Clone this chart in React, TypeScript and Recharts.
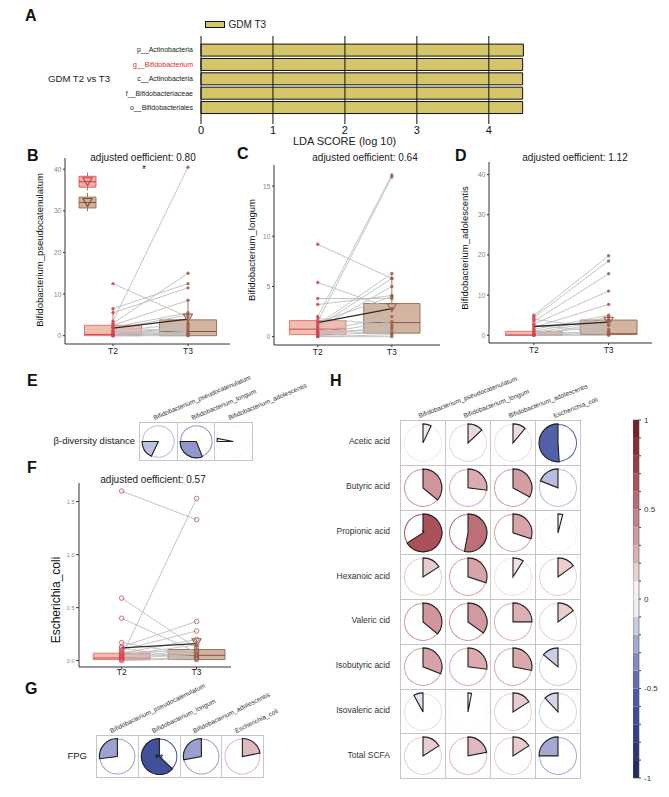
import React from "react";
import {
  Bar,
  BarChart,
  ComposedChart,
  Line,
  Pie,
  PieChart,
  ReferenceArea,
  ReferenceLine,
  Scatter,
  XAxis,
  YAxis,
} from "recharts";

const FONT = '"Liberation Sans", Arial, Helvetica, sans-serif';

// A: LEfSe
const ldaTaxa = ["p__Actinobacteria", "g__Bifidobacterium", "c__Actinobacteria", "f__Bifidobacteriaceae", "o__Bifidobacteriales"];
const ldaScores = [4.48, 4.47, 4.47, 4.47, 4.47];
const ldaTicks = [0, 1, 2, 3, 4];

// B-D, F: paired abundance, T2 -> T3
const timepoints = ["T2", "T3"];

const pseudoT2 = [3.5, 12.5, 6.5, 5.5, 3.0, 2.5, 2.0, 1.5, 1.0, 0.5, 0.3, 0.0, 0.0, 1.0, 0.5, 0.2, 2.0, 0.1];
const pseudoT3 = [40.5, 4.5, 12.5, 11.5, 15.0, 8.5, 5.5, 5.0, 3.0, 2.0, 1.0, 0.5, 0.0, 0.2, 1.5, 0.3, 1.0, 2.5];
const pseudoBoxT2 = [0, 0, 0.3, 2.5, 6.5];
const pseudoBoxT3 = [0, 0, 1.0, 3.8, 8.5];
const pseudoMeans = [1.8, 4.0];
const pseudoKeyT2 = [34.9, 35.7, 37.0, 38.3, 39.2];
const pseudoKeyT3 = [29.9, 30.7, 32.0, 33.3, 34.3];

const longumT2 = [9.2, 5.4, 3.8, 3.2, 2.0, 1.5, 1.2, 1.0, 0.8, 0.5, 0.3, 0.2, 0.1, 0.0, 0.0, 0.6, 1.8, 0.4, 1.4];
const longumT3 = [5.8, 2.8, 3.8, 4.1, 16.1, 15.9, 6.3, 5.8, 5.0, 2.0, 1.5, 1.0, 0.5, 0.2, 0.0, 0.3, 1.2, 0.8, 4.0];
const longumBoxT2 = [0, 0.2, 0.75, 1.6, 2.2];
const longumBoxT3 = [0, 0.35, 1.4, 3.3, 6.3];
const longumMeans = [1.4, 2.8];

const adolT2 = [5.0, 4.5, 3.5, 2.8, 2.0, 1.5, 1.0, 0.5, 0.0, 0.3, 0.2, 0.0, 0.0, 2.5, 4.0, 1.0];
const adolT3 = [19.8, 18.5, 15.3, 11.0, 7.7, 5.0, 4.5, 4.0, 3.5, 2.5, 1.0, 0.5, 0.0, 0.8, 1.5, 0.3];
const adolBoxT2 = [0, 0, 0.1, 1.0, 2.5];
const adolBoxT3 = [0, 0.2, 0.4, 3.8, 5.0];
const adolMeans = [2.2, 3.3];

const coliT2 = [1.6, 0.59, 0.4, 0.17, 0.13, 0.1, 0.07, 0.05, 0.03, 0.02, 0.01, 0.0, 0.04, 0.06, 0.08, 0.12];
const coliT3 = [1.33, 0.12, 0.08, 0.05, 0.37, 0.28, 0.2, 0.15, 0.1, 0.06, 0.03, 0.02, 1.53, 0.04, 0.09, 0.01];
const coliBoxT2 = [0, 0.01, 0.025, 0.07, 0.13];
const coliBoxT3 = [0, 0.01, 0.05, 0.105, 0.2];
const coliMeans = [0.12, 0.16];

// E, G, H: correlation pies
const speciesNames = ["Bifidobacterium_pseudocatenulatum", "Bifidobacterium_longum", "Bifidobacterium_adolescentis", "Escherichia_coli"];
const betaValues = [[-0.18, -0.31, 0.03]];
const fpgValues = [[-0.27, -0.63, -0.28, 0.22]];
const fpgMarks = [["", "**", "", ""]];
const scfaNames = ["Acetic acid", "Butyric acid", "Propionic acid", "Hexanoic acid", "Valeric cid", "Isobutyric acid", "Isovaleric acid", "Total SCFA"];
const scfaValues = [
  [0.07, 0.13, 0.11, -0.51],
  [0.36, 0.27, 0.33, -0.19],
  [0.66, 0.53, 0.3, 0.04],
  [0.16, 0.3, 0.09, 0.15],
  [0.36, 0.35, 0.25, 0.15],
  [0.31, 0.27, 0.28, -0.14],
  [-0.08, 0.03, 0.16, -0.12],
  [0.16, 0.22, 0.16, -0.25],
];
const scfaMarks = [[], [], ["*"], [], [], [], [], []];

// colour scale
const colorStops = [-1, -0.75, -0.5, -0.25, 0, 0.25, 0.5, 0.75, 1];
const colorHex = ["#1f2654", "#333f8a", "#5360aa", "#a4a8d2", "#ffffff", "#ddb0b4", "#c2767e", "#9c3c46", "#6a1a20"];
const colorbarEdges = [-1, -0.9, -0.8, -0.7, -0.6, -0.5, -0.4, -0.3, -0.2, -0.1, 0, 0.1, 0.2, 0.3, 0.4, 0.5, 0.6, 0.7, 0.8, 0.9, 1];
const colorbarLabels = [-1, -0.5, 0, 0.5, 1];

function hexRgb(h: string) {
  return [1, 3, 5].map((i) => parseInt(h.slice(i, i + 2), 16));
}

function corrColor(v: number) {
  let i = 0;
  while (i < colorStops.length - 2 && v > colorStops[i + 1]) i++;
  const t = (v - colorStops[i]) / (colorStops[i + 1] - colorStops[i]);
  const a = hexRgb(colorHex[i]);
  const b = hexRgb(colorHex[i + 1]);
  const c = a.map((x, k) => Math.round(x + (b[k] - x) * t));
  return `rgb(${c[0]},${c[1]},${c[2]})`;
}

const RED = "#d6404e";
const BROWN = "#9a5d4a";
const HW = 0.38;

function Txt({ x, y, text, size, anchor = "start", color = "#222", weight = 400 }: any) {
  const shift = anchor === "middle" ? "-50%" : anchor === "end" ? "-100%" : "0";
  return (
    <div style={{ position: "absolute", left: x, top: y, transform: `translate(${shift}, -50%)`, fontSize: size, lineHeight: 1.15, color, fontWeight: weight, whiteSpace: "nowrap" }}>
      {text}
    </div>
  );
}

function VTxt({ x, y, text, size }: any) {
  return (
    <div style={{ position: "absolute", left: x, top: y, transform: "translate(-50%, -50%) rotate(-90deg)", fontSize: size, lineHeight: 1.15, color: "#111", whiteSpace: "nowrap" }}>
      {text}
    </div>
  );
}

function SlantTxt({ x, y, text, size, angle }: any) {
  return (
    <div style={{ position: "absolute", left: x, top: y - size * 1.15, transformOrigin: "0 100%", transform: `rotate(${-angle}deg)`, fontSize: size, lineHeight: 1.15, color: "#333", whiteSpace: "nowrap" }}>
      {text}
    </div>
  );
}

function Letter({ x, y, t }: any) {
  return <Txt x={x} y={y} text={t} size={16} weight={700} color="#111" />;
}

function LdaPanel() {
  const data = ldaTaxa.map((name, i) => ({ name, score: ldaScores[i] }));
  return (
    <>
      <div style={{ position: "absolute", left: 204.5, top: 21.4, width: 20, height: 7, boxSizing: "border-box", background: "#D4C56A", border: "1px solid #111" }} />
      <Txt x={228.5} y={24.8} text="GDM T3" size={10} />
      <Txt x={48} y={78.6} text="GDM T2 vs T3" size={9.6} />
      <div style={{ position: "absolute", left: 0, top: 28 }}>
        <BarChart width={535} height={116} data={data} layout="vertical" margin={{ top: 8, right: 3, bottom: 0, left: 0 }} barCategoryGap={1.3}>
          {ldaTicks.map((t) => (
            <ReferenceLine key={t} x={t} stroke="#111" strokeWidth={1} />
          ))}
          <XAxis type="number" dataKey="score" domain={[0, 4.6]} ticks={ldaTicks} axisLine={false} tickLine={false} tickSize={1} tickMargin={1.5} height={20} tick={{ fontSize: 11, fill: "#111" }} />
          <YAxis
            type="category"
            dataKey="name"
            width={201}
            axisLine={false}
            tickLine={false}
            interval={0}
            padding={{ top: 6.8, bottom: 9.4 }}
            tick={(p: any) => (
              <text x={p.x} y={p.y} dy="0.35em" textAnchor="end" fontSize={7} fill={p.index === 1 ? "#e8262d" : "#222"}>
                {p.payload.value}
              </text>
            )}
          />
          <Bar dataKey="score" fill="#D4C56A" stroke="#111" strokeWidth={1} isAnimationActive={false} />
        </BarChart>
      </div>
      <Txt x={344.6} y={141.4} text="LDA SCORE (log 10)" size={11} anchor="middle" />
    </>
  );
}

function boxElements(id: string, xc: number, hw: number, s: number[], fill: string, stroke: string, med: string) {
  return [
    <ReferenceLine key={id + "lo"} segment={[{ x: xc, y: s[0] }, { x: xc, y: s[1] }]} stroke={stroke} strokeWidth={1} />,
    <ReferenceLine key={id + "hi"} segment={[{ x: xc, y: s[3] }, { x: xc, y: s[4] }]} stroke={stroke} strokeWidth={1} />,
    <ReferenceArea key={id + "b"} x1={xc - hw} x2={xc + hw} y1={s[1]} y2={s[3]} fill={fill} fillOpacity={0.75} stroke={stroke} strokeWidth={1} />,
    <ReferenceLine key={id + "m"} segment={[{ x: xc - hw, y: s[2] }, { x: xc + hw, y: s[2] }]} stroke={med} strokeWidth={1} />,
  ];
}

function PairedChart(props: any) {
  const { plot, xDomain, yDomain, yTicks, t2, t3, box2, box3, means, tickFont, hollow, keys, yFmt, xTickMargin = 2, yTickSize = 2 } = props;
  const w = plot.right - plot.left;
  const h = plot.bottom - plot.top;
  const rows = [0, 1].map((j) => {
    const row: Record<string, number> = { x: j + 1, mean: means[j] };
    t2.forEach((v: number, i: number) => {
      row["s" + i] = j === 0 ? v : t3[i];
    });
    return row;
  });
  const dot = (color: string) => (s: any) =>
    hollow ? (
      <circle cx={s.cx} cy={s.cy} r={2.3} fill="none" stroke={color} strokeWidth={1} opacity={0.75} />
    ) : (
      <circle cx={s.cx} cy={s.cy} r={1.7} fill={color} opacity={0.85} />
    );
  const tri = (color: string) => (s: any) => (
    <path d={`M${s.cx - 4.5},${s.cy - 4} L${s.cx + 4.5},${s.cy - 4} L${s.cx},${s.cy + 4} Z`} fill="none" stroke={color} strokeWidth={1.1} />
  );
  const triPoints = [{ x: 2, y: means[1] + (yDomain[1] - yDomain[0]) * 0.005 }];
  return (
    <div style={{ position: "absolute", left: plot.left - 30, top: plot.top - 4 }}>
      <ComposedChart width={w + 34} height={h + 22} data={rows} margin={{ top: 4, right: 4, bottom: 0, left: 0 }}>
        <XAxis
          type="number"
          dataKey="x"
          domain={xDomain}
          ticks={[1, 2]}
          allowDataOverflow
          tickFormatter={(v: number) => timepoints[v - 1]}
          height={18}
          tickSize={2}
          tickMargin={xTickMargin}
          stroke="#333"
          tick={{ fontSize: 8.5, fill: "#222" }}
        />
        <YAxis
          type="number"
          domain={yDomain}
          ticks={yTicks}
          allowDataOverflow
          interval={0}
          width={30}
          tickSize={yTickSize}
          tickMargin={1.5}
          stroke="#333"
          tickFormatter={yFmt}
          tick={{ fontSize: tickFont, fill: "#8a8a8a" }}
        />
        {boxElements("b2", 1, HW, box2, "#eca797", "#df7b70", "#d8454f")}
        {boxElements("b3", 2, HW, box3, "#c39c80", "#9d765d", "#8b563f")}
        {keys ? boxElements("k2", 0.66, 0.113, keys[0], "#e99488", "#d8645c", "#c83a44") : null}
        {keys ? boxElements("k3", 0.66, 0.113, keys[1], "#bf967a", "#9d765d", "#8b563f") : null}
        {t2.map((_: number, i: number) => (
          <Line key={"s" + i} dataKey={"s" + i} stroke="#bdbdbd" strokeWidth={0.9} dot={false} activeDot={false} isAnimationActive={false} />
        ))}
        <Line dataKey="mean" stroke="#2b2b2b" strokeWidth={1.3} dot={false} activeDot={false} isAnimationActive={false} />
        <Scatter data={t2.map((y: number) => ({ x: 1, y }))} dataKey="y" shape={dot(RED)} isAnimationActive={false} />
        <Scatter data={t3.map((y: number) => ({ x: 2, y }))} dataKey="y" shape={dot(BROWN)} isAnimationActive={false} />
        <Scatter data={triPoints} dataKey="y" shape={tri(BROWN)} isAnimationActive={false} />
        {keys ? <Scatter data={[{ x: 0.66, y: keys[0][2] }]} dataKey="y" shape={tri("#c83a44")} isAnimationActive={false} /> : null}
        {keys ? <Scatter data={[{ x: 0.66, y: keys[1][2] }]} dataKey="y" shape={tri("#7a4a36")} isAnimationActive={false} /> : null}
      </ComposedChart>
    </div>
  );
}

function PieCell({ value, w, h, radius, start }: any) {
  const color = corrColor(value);
  return (
    <PieChart width={w} height={h} margin={{ top: 0, right: 0, bottom: 0, left: 0 }}>
      <Pie data={[{ v: 1 }]} dataKey="v" cx="50%" cy="50%" innerRadius={radius - 1} outerRadius={radius} startAngle={0} endAngle={360} fill={color} stroke="none" isAnimationActive={false} />
      <Pie data={[{ v: Math.abs(value) }]} dataKey="v" cx="50%" cy="50%" innerRadius={0} outerRadius={radius} startAngle={start} endAngle={start - 360 * value} fill={color} stroke="#1e1e1e" strokeWidth={1.1} isAnimationActive={false} />
    </PieChart>
  );
}

function CorrGrid({ left, top, cellW, cellH, radius, matrix, start, marks, markSize = 10 }: any) {
  return (
    <div style={{ position: "absolute", left, top }}>
      {matrix.map((row: number[], r: number) =>
        row.map((v: number, c: number) => (
          <div key={r + "-" + c} style={{ position: "absolute", left: c * cellW, top: r * cellH, width: cellW + 1, height: cellH + 1, boxSizing: "border-box", border: "1px solid #c6c6c6" }}>
            <div style={{ position: "absolute", left: 0, top: 0 }}>
              <PieCell value={v} w={cellW - 1} h={cellH - 1} radius={radius} start={start} />
            </div>
            {marks && marks[r] && marks[r][c] ? (
              <div style={{ position: "absolute", left: (cellW - 1) / 2, top: (cellH - 1) / 2 + 1, transform: "translate(-50%, -50%)", fontSize: markSize, lineHeight: 1, color: "#111" }}>
                {marks[r][c]}
              </div>
            ) : null}
          </div>
        ))
      )}
    </div>
  );
}

function ColorBar() {
  const bins = colorbarEdges.slice(0, -1).map((lo, i) => ({ lo, hi: colorbarEdges[i + 1] }));
  return (
    <div style={{ position: "absolute", left: 633, top: 416 }}>
      <ComposedChart width={36} height={366} data={[{ x: 0.5, y: 0 }]} margin={{ top: 4, right: 0, bottom: 4, left: 0 }}>
        <XAxis type="number" dataKey="x" domain={[0, 1]} hide />
        <YAxis
          type="number"
          orientation="right"
          domain={[-1, 1]}
          ticks={colorbarEdges}
          interval={0}
          width={30}
          tickSize={2}
          tickMargin={3}
          axisLine={false}
          stroke="#444"
          tick={{ fontSize: 8, fill: "#333" }}
          tickFormatter={(v: number) => (colorbarLabels.includes(v) ? String(v) : "")}
        />
        {bins.map((b) => (
          <ReferenceArea key={b.lo} x1={0} x2={1} y1={b.lo} y2={b.hi} fill={corrColor((b.lo + b.hi) / 2)} fillOpacity={1} stroke="none" />
        ))}
        <ReferenceArea x1={0} x2={1} y1={-1} y2={1} fill="none" stroke="#555" strokeWidth={0.6} />
        <Scatter data={[{ x: 0.5, y: 0 }]} dataKey="y" shape={() => <g />} isAnimationActive={false} />
      </ComposedChart>
    </div>
  );
}

export default function App() {
  return (
    <div style={{ position: "absolute", left: 0, top: 0, width: 669, height: 797, background: "#fff", fontFamily: FONT, color: "#222", overflow: "hidden" }}>
      <Letter x={25} y={16.4} t="A" />
      <LdaPanel />

      {/* B */}
      <Letter x={27} y={155.5} t="B" />
      <Txt x={143} y={158} text="adjusted oefficient: 0.80" size={10} anchor="middle" />
      <Txt x={144} y={170} text="*" size={10} anchor="middle" />
      <VTxt x={40} y={250} text="Bifidobacterium_pseudocatenulatum" size={9.5} />
      <PairedChart
        plot={{ left: 65, top: 158, right: 230, bottom: 344 }}
        xDomain={[0.36, 2.56]}
        yDomain={[-2, 42.7]}
        yTicks={[0, 10, 20, 30, 40]}
        t2={pseudoT2}
        t3={pseudoT3}
        box2={pseudoBoxT2}
        box3={pseudoBoxT3}
        means={pseudoMeans}
        keys={[pseudoKeyT2, pseudoKeyT3]}
        tickFont={7}
      />

      {/* C */}
      <Letter x={237} y={153.5} t="C" />
      <Txt x={365} y={158} text="adjusted oefficient: 0.64" size={10} anchor="middle" />
      <VTxt x={252} y={250} text="Bifidobacterium_longum" size={9.5} />
      <PairedChart
        plot={{ left: 274, top: 165, right: 440, bottom: 345 }}
        xDomain={[0.41, 2.65]}
        yDomain={[-0.83, 17.1]}
        yTicks={[0, 5, 10, 15]}
        t2={longumT2}
        t3={longumT3}
        box2={longumBoxT2}
        box3={longumBoxT3}
        means={longumMeans}
        tickFont={7}
      />

      {/* D */}
      <Letter x={455} y={156} t="D" />
      <Txt x={575} y={158} text="adjusted oefficient: 1.12" size={10} anchor="middle" />
      <VTxt x={465} y={248} text="Bifidobacterium_adolescentis" size={9.5} />
      <PairedChart
        plot={{ left: 489, top: 162, right: 652, bottom: 343 }}
        xDomain={[0.4, 2.58]}
        yDomain={[-1.9, 43.1]}
        yTicks={[0, 10, 20, 30, 40]}
        t2={adolT2}
        t3={adolT3}
        box2={adolBoxT2}
        box3={adolBoxT3}
        means={adolMeans}
        tickFont={7}
      />

      {/* E */}
      <Letter x={27} y={381} t="E" />
      <Txt x={135} y={441} text="β-diversity distance" size={9.5} anchor="end" />
      {speciesNames.slice(0, 3).map((n, i) => (
        <SlantTxt key={n} x={139 + 37.7 * (i + 0.5) - 3} y={421} text={n} size={6.5} angle={23} />
      ))}
      <CorrGrid left={139} top={422} cellW={37.7} cellH={38} radius={16.3} matrix={betaValues} start={180} />

      {/* F */}
      <Letter x={27} y={468} t="F" />
      <Txt x={153} y={480} text="adjusted oefficient: 0.57" size={10} anchor="middle" />
      <VTxt x={57} y={600} text="Escherichia_coli" size={12} />
      <PairedChart
        plot={{ left: 79, top: 483, right: 231, bottom: 667 }}
        xDomain={[0.43, 2.46]}
        yDomain={[-0.06, 1.676]}
        yTicks={[0, 0.5, 1, 1.5]}
        yFmt={(v: number) => v.toFixed(1)}
        t2={coliT2}
        t3={coliT3}
        box2={coliBoxT2}
        box3={coliBoxT3}
        means={coliMeans}
        tickFont={5.5}
        yTickSize={3}
        xTickMargin={0}
        hollow
      />

      {/* G */}
      <Letter x={25} y={689} t="G" />
      <Txt x={87} y={756} text="FPG" size={9.5} anchor="end" />
      {speciesNames.map((n, i) => (
        <SlantTxt key={n} x={96 + 41.75 * (i + 0.5) - 5} y={734} text={n} size={6.5} angle={26} />
      ))}
      <CorrGrid left={96} top={735} cellW={41.75} cellH={42} radius={18} matrix={fpgValues} start={90} marks={fpgMarks} markSize={11} />

      {/* H */}
      <Letter x={330} y={381} t="H" />
      {speciesNames.map((n, i) => (
        <SlantTxt key={n} x={400 + 45 * (i + 0.5) - 3} y={419} text={n} size={6.5} angle={21} />
      ))}
      {scfaNames.map((n, r) => (
        <Txt key={n} x={390} y={420 + 44.75 * (r + 0.5)} text={n} size={8.5} anchor="end" color="#333" />
      ))}
      <CorrGrid left={400} top={420} cellW={45} cellH={44.75} radius={19} matrix={scfaValues} start={90} marks={scfaMarks} markSize={8} />
      <ColorBar />
    </div>
  );
}
